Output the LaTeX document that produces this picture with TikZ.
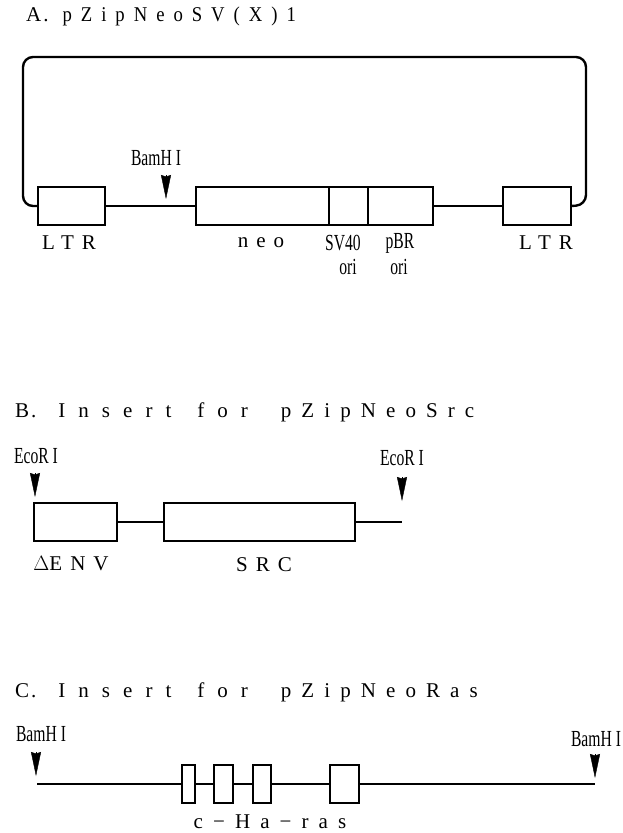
\documentclass[tikz,border=0pt]{standalone}
\usepackage{fontspec}
\usepackage{graphicx}
\usetikzlibrary{arrows.meta}
\setmainfont{Liberation Serif}
\newfontfamily\widefont[LetterSpace=48]{Liberation Serif}
\newfontfamily\wordfont[LetterSpace=62]{Liberation Serif}
\newfontfamily\genefont[LetterSpace=38]{Liberation Serif}
\newcommand{\narrowtext}[1]{\scalebox{0.68}[1]{#1}}
\newcommand{\insertline}[2]{{\rmfamily #1\kern2pt.}\hspace{22pt}{\wordfont Insert}\hspace{26pt}{\wordfont for}\hspace{33pt}#2}
\tikzset{
  dna/.style={line width=2.4pt,line join=round},
  genebox/.style={draw,line width=2.6pt,inner sep=0pt,outer sep=0pt,minimum height=38,fill=white},
  site/.style={-{Stealth[length=24pt,width=10pt,inset=1.5pt]},line width=0.4pt},
  headline/.style={anchor=west,inner sep=0pt,font=\widefont\fontsize{21}{23}\selectfont},
  genelabel/.style={inner sep=0pt,font=\genefont\fontsize{21}{23}\selectfont},
  smalllabel/.style={inner sep=0pt,align=center,font=\fontsize{23}{25}\selectfont}
}
\begin{document}
\begin{tikzpicture}[x=1pt,y=-1pt]
  \useasboundingbox (0,0) rectangle (622,833);
  % A
  \node[headline] (titleA) at (26,16) {{\rmfamily A\kern2pt.}\hspace{14pt}\scalebox{0.89}[1]{pZipNeoSV(X)1}};
  \node[genebox,minimum width=67] (ltrL) at (71.5,206) {};
  \node[genebox,minimum width=133] (neo) at (262.5,206) {};
  \node[genebox,minimum width=39] (sv) at (348.5,206) {};
  \node[genebox,minimum width=65] (pbr) at (400.5,206) {};
  \node[genebox,minimum width=68] (ltrR) at (537,206) {};
  \coordinate (cornerSW) at (23,206);
  \coordinate (cornerNW) at (23,57);
  \coordinate (cornerNE) at (586,57);
  \coordinate (cornerSE) at (586,205);
  \draw[dna,rounded corners=10] (ltrL.west) -- (cornerSW) -- (cornerNW) -- (cornerNE) -- (cornerSE) -- (ltrR.east);
  \draw[dna] (ltrL.east) -- (neo.west);
  \draw[dna] (pbr.east) -- (ltrR.west);
  \coordinate (siteAtop) at (166,175);
  \coordinate (siteAend) at (166,199);
  \draw[site] (siteAtop) -- (siteAend);
  \node[smalllabel] (bamA) at (156,158) {\narrowtext{BamH I}};
  \node[genelabel] (ltrLlabel) at (69,243) {LTR};
  \node[genelabel] (neolabel) at (261,243) {neo};
  \node[smalllabel] (svlabel) at (343,243) {\narrowtext{SV40}};
  \node[smalllabel] (svori) at (348,267) {\narrowtext{ori}};
  \node[smalllabel] (pbrlabel) at (400,243) {\narrowtext{pBR}};
  \node[smalllabel] (pbrori) at (399,267) {\narrowtext{ori}};
  \node[genelabel] (ltrRlabel) at (546,243) {LTR};
  % B
  \node[headline] (titleB) at (15,412) {\insertline{B}{pZipNeoSrc}};
  \node[genebox,minimum width=83] (env) at (75.5,522) {};
  \node[genebox,minimum width=191] (src) at (259.5,522) {};
  \coordinate (srcEnd) at (402,522);
  \draw[dna] (env.east) -- (src.west);
  \draw[dna] (src.east) -- (srcEnd);
  \coordinate (siteBtopL) at (35,473);
  \coordinate (siteBendL) at (35,497);
  \coordinate (siteBtopR) at (402,477);
  \coordinate (siteBendR) at (402,501);
  \draw[site] (siteBtopL) -- (siteBendL);
  \draw[site] (siteBtopR) -- (siteBendR);
  \node[smalllabel] (ecoL) at (36,456) {\narrowtext{EcoR I}};
  \node[smalllabel] (ecoR) at (402,458) {\narrowtext{EcoR I}};
  \node[genelabel] (envlabel) at (71,564) {$\Delta$ENV};
  \node[genelabel] (srclabel) at (264,565) {SRC};
  % C
  \node[headline] (titleC) at (15,692) {\insertline{C}{pZipNeoRas}};
  \coordinate (rasStart) at (37,784);
  \coordinate (rasEnd) at (595,784);
  \draw[dna] (rasStart) -- (rasEnd);
  \node[genebox,minimum width=13] (exonA) at (188.5,784) {};
  \node[genebox,minimum width=19] (exonB) at (223.5,784) {};
  \node[genebox,minimum width=18] (exonC) at (262,784) {};
  \node[genebox,minimum width=29] (exonD) at (344.5,784) {};
  \coordinate (siteCtopL) at (36,752);
  \coordinate (siteCendL) at (36,776);
  \coordinate (siteCtopR) at (595,754);
  \coordinate (siteCendR) at (595,778);
  \draw[site] (siteCtopL) -- (siteCendL);
  \draw[site] (siteCtopR) -- (siteCendR);
  \node[smalllabel] (bamL) at (41,734) {\narrowtext{BamH I}};
  \node[smalllabel] (bamR) at (596,739) {\narrowtext{BamH I}};
  \node[genelabel,font=\widefont\fontsize{21}{23}\selectfont] (raslabel) at (270,822) {c−Ha−ras};
\end{tikzpicture}
\end{document}
